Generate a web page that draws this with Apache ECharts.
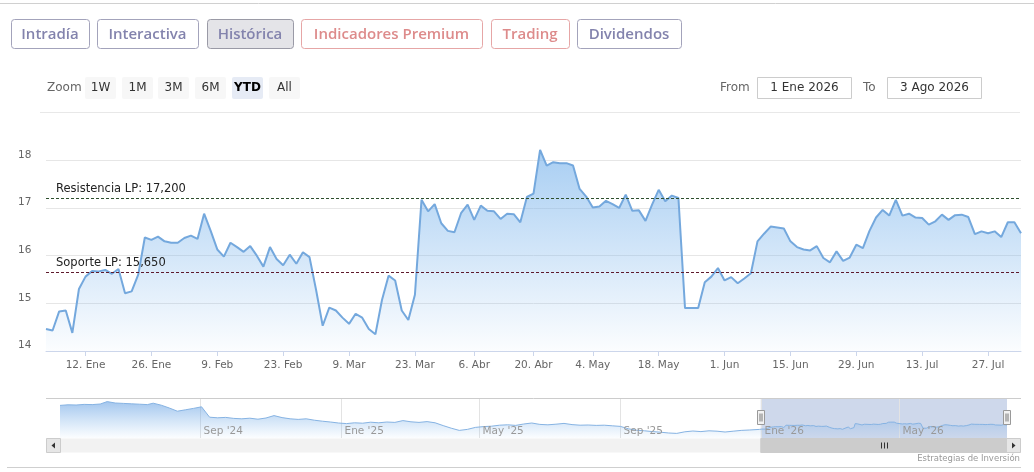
<!DOCTYPE html>
<html><head><meta charset="utf-8">
<script src="https://cdn.jsdelivr.net/npm/echarts@6/dist/echarts.min.js"></script>
<style>html,body{margin:0;padding:0;background:#fff;overflow:hidden}#c{width:1034px;height:472px}</style>
</head><body><div id="c"></div><script>
// ---- data ----
const dates = [
'2026-01-02','2026-01-05','2026-01-06','2026-01-07','2026-01-08','2026-01-09','2026-01-12','2026-01-13','2026-01-14','2026-01-15','2026-01-16','2026-01-19','2026-01-20','2026-01-21','2026-01-22','2026-01-23','2026-01-26','2026-01-27','2026-01-28','2026-01-29','2026-01-30',
'2026-02-02','2026-02-03','2026-02-04','2026-02-05','2026-02-06','2026-02-09','2026-02-10','2026-02-11','2026-02-12','2026-02-13','2026-02-16','2026-02-17','2026-02-18','2026-02-19','2026-02-20','2026-02-23','2026-02-24','2026-02-25','2026-02-26','2026-02-27',
'2026-03-02','2026-03-03','2026-03-04','2026-03-05','2026-03-06','2026-03-09','2026-03-10','2026-03-11','2026-03-12','2026-03-13','2026-03-16','2026-03-17','2026-03-18','2026-03-19','2026-03-20','2026-03-23','2026-03-24','2026-03-25','2026-03-26','2026-03-27','2026-03-30','2026-03-31',
'2026-04-01','2026-04-02','2026-04-07','2026-04-08','2026-04-09','2026-04-10','2026-04-13','2026-04-14','2026-04-15','2026-04-16','2026-04-17','2026-04-20','2026-04-21','2026-04-22','2026-04-23','2026-04-24','2026-04-27','2026-04-28','2026-04-29','2026-04-30',
'2026-05-04','2026-05-05','2026-05-06','2026-05-07','2026-05-08','2026-05-11','2026-05-12','2026-05-13','2026-05-14','2026-05-15','2026-05-18','2026-05-19','2026-05-20','2026-05-21','2026-05-22','2026-05-25','2026-05-26','2026-05-27','2026-05-28','2026-05-29',
'2026-06-01','2026-06-02','2026-06-03','2026-06-04','2026-06-05','2026-06-08','2026-06-09','2026-06-10','2026-06-11','2026-06-12','2026-06-15','2026-06-16','2026-06-17','2026-06-18','2026-06-19','2026-06-22','2026-06-23','2026-06-24','2026-06-25','2026-06-26','2026-06-29','2026-06-30',
'2026-07-01','2026-07-02','2026-07-03','2026-07-06','2026-07-07','2026-07-08','2026-07-09','2026-07-10','2026-07-13','2026-07-14','2026-07-15','2026-07-16','2026-07-17','2026-07-20','2026-07-21','2026-07-22','2026-07-23','2026-07-24','2026-07-27','2026-07-28','2026-07-29','2026-07-30','2026-07-31',
'2026-08-03'
];
const prices = [
14.46,14.43,14.83,14.85,14.38,15.30,15.56,15.68,15.67,15.70,15.62,15.72,15.21,15.25,15.60,16.38,16.33,16.40,16.30,16.27,16.27,
16.37,16.42,16.35,16.88,16.52,16.13,15.98,16.27,16.18,16.08,16.20,16.00,15.77,16.18,15.93,15.80,16.02,15.83,16.07,15.97,
15.28,14.53,14.91,14.85,14.70,14.57,14.78,14.70,14.46,14.35,15.07,15.58,15.48,14.85,14.65,15.18,17.17,16.93,17.08,16.68,16.52,16.49,
16.89,17.07,16.75,17.05,16.94,16.93,16.77,16.88,16.87,16.70,17.23,17.30,18.22,17.89,17.96,17.94,17.94,17.89,17.40,17.24,
17.01,17.03,17.15,17.08,17.00,17.28,16.94,16.95,16.73,17.07,17.38,17.14,17.26,17.21,14.90,14.90,14.90,15.44,15.56,15.74,
15.48,15.55,15.42,15.52,15.63,16.30,16.46,16.61,16.59,16.57,16.30,16.18,16.13,16.11,16.20,15.95,15.86,16.09,15.89,15.96,16.23,16.16,
16.52,16.80,16.96,16.84,17.17,16.84,16.88,16.80,16.79,16.65,16.72,16.86,16.75,16.85,16.86,16.81,16.45,16.51,16.47,16.51,16.39,16.70,16.70,
16.47
];
const tickDates = ['2026-01-12','2026-01-26','2026-02-09','2026-02-23','2026-03-09','2026-03-23','2026-04-07','2026-04-20','2026-05-04','2026-05-18','2026-06-01','2026-06-15','2026-06-29','2026-07-13','2026-07-27'];
const tickLabels = ['12. Ene','26. Ene','9. Feb','23. Feb','9. Mar','23. Mar','6. Abr','20. Abr','4. May','18. May','1. Jun','15. Jun','29. Jun','13. Jul','27. Jul'];
const resistance = 17.2;
const resistanceLabel = 'Resistencia LP: 17,200';
const support = 15.65;
const supportLabel = 'Soporte LP: 15,650';
const histDates = [
'2024-05-02','2024-05-09','2024-05-16','2024-05-23','2024-05-30','2024-06-06','2024-06-12','2024-06-19','2024-06-26','2024-07-03','2024-07-10','2024-07-17','2024-07-22','2024-07-29',
'2024-08-05','2024-08-12','2024-08-19','2024-08-26','2024-09-02','2024-09-09','2024-09-16','2024-09-23','2024-09-30','2024-10-07','2024-10-14','2024-10-21','2024-10-28',
'2024-11-04','2024-11-11','2024-11-18','2024-11-25','2024-12-02','2024-12-09','2024-12-16','2024-12-23','2024-12-30',
'2025-01-06','2025-01-13','2025-01-20','2025-01-27','2025-02-03','2025-02-10','2025-02-17','2025-02-24','2025-03-03','2025-03-10','2025-03-17','2025-03-24','2025-03-31',
'2025-04-07','2025-04-14','2025-04-21','2025-04-28','2025-05-05','2025-05-12','2025-05-19','2025-05-26','2025-06-02','2025-06-09','2025-06-16','2025-06-23','2025-06-30',
'2025-07-07','2025-07-14','2025-07-21','2025-07-28','2025-08-04','2025-08-11','2025-08-18','2025-08-25','2025-09-01','2025-09-08','2025-09-15','2025-09-22','2025-09-29',
'2025-10-06','2025-10-13','2025-10-20','2025-10-27','2025-11-03','2025-11-10','2025-11-17','2025-11-24','2025-12-01','2025-12-08','2025-12-15','2025-12-22','2025-12-31'
];
const histPrices = [
26.3,26.6,26.5,26.8,26.7,27.0,28.2,27.5,27.3,27.1,26.9,26.7,27.4,26.4,
25.0,23.4,24.1,24.8,25.6,20.4,20.1,20.3,19.8,19.6,19.9,19.4,20.0,
21.2,20.2,19.6,19.3,19.6,18.9,18.4,18.0,17.5,
17.2,17.6,17.4,17.9,17.6,18.0,17.8,18.7,18.1,17.8,18.2,17.6,16.2,
14.9,13.8,14.3,15.3,15.7,15.9,16.4,16.6,16.3,17.0,17.5,16.8,16.6,
16.9,17.3,16.7,16.4,16.5,16.3,16.4,16.1,15.8,14.6,13.9,13.6,13.2,
12.9,12.5,12.3,13.1,13.5,13.2,13.6,13.4,13.0,13.4,13.8,14.0,14.3
];
const navTickDates = ['2024-09-01','2025-01-01','2025-05-01','2025-09-01','2026-01-01','2026-05-01'];
const navTickLabels = ["Sep '24","Ene '25","May '25","Sep '25","Ene '26","May '26"];
const rangeFrom = '2026-01-01';
const rangeTo = '2026-08-03';

// ---- chart ----
const FONT = '"DejaVu Sans", Verdana, sans-serif';
const chart = echarts.init(document.getElementById('c'), null, {renderer:'canvas', width:1034, height:472});
const tickSet = new Set(tickDates);
const navDates = histDates.concat(dates);
const navPrices = histPrices.concat(prices);

chart.setOption({
  animation:false,
  backgroundColor:'#ffffff',
  grid:[{left:46,right:13,top:146,height:205},{left:60,right:27,top:398,height:40}],
  xAxis:[
    {type:'category', gridIndex:0, data:dates, boundaryGap:false,
     axisLine:{lineStyle:{color:'#ccd6eb'}},
     axisTick:{show:true, interval:(i,v)=>tickSet.has(v), length:5, lineStyle:{color:'#ccd6eb'}},
     axisLabel:{interval:(i,v)=>tickSet.has(v), formatter:v=>tickLabels[tickDates.indexOf(v)], color:'#666666', fontFamily:FONT, fontSize:10.5, margin:9},
     splitLine:{show:false}},
    {type:'time', gridIndex:1, min:histDates[0], max:rangeTo, show:false}
  ],
  yAxis:[
    {type:'value', gridIndex:0, min:14, max:18.3, interval:1,
     axisLine:{show:false}, axisTick:{show:false},
     splitLine:{show:true, showMaxLine:false, lineStyle:{color:'#e6e6e6'}},
     axisLabel:{formatter:v=>Number.isInteger(v)?String(v):'', showMaxLabel:false, align:'left', margin:28, verticalAlign:'bottom', color:'#666666', fontFamily:FONT, fontSize:10.5}},
    {type:'value', gridIndex:1, min:10, max:30, show:false}
  ],
  series:[
    {type:'line', name:'Cotización', xAxisIndex:0, yAxisIndex:0, data:prices, symbol:'none', z:3,
     lineStyle:{color:'#74a8dd', width:2}, itemStyle:{color:'#74a8dd'},
     areaStyle:{color:new echarts.graphic.LinearGradient(0,0,0,1,[{offset:0,color:'rgba(124,181,236,0.95)'},{offset:1,color:'rgba(124,181,236,0.04)'}])},
     markLine:{silent:true, symbol:'none', animation:false,
       label:{position:'insideStartTop', distance:[10,3], color:'#222222', fontFamily:FONT, fontSize:11.5},
       data:[
         {yAxis:resistance, label:{formatter:resistanceLabel}, lineStyle:{color:'#2d4f2d', type:[3,2], width:1}},
         {yAxis:support, label:{formatter:supportLabel}, lineStyle:{color:'#5e1a2c', type:[3,2], width:1}}
       ]}
    },
    {type:'line', name:'Navigator', xAxisIndex:1, yAxisIndex:1, data:navDates.map((d,i)=>[d,navPrices[i]]), symbol:'none', z:2,
     lineStyle:{color:'#86b3e3', width:1}, itemStyle:{color:'#86b3e3'},
     areaStyle:{color:new echarts.graphic.LinearGradient(0,0,0,1,[{offset:0,color:'rgba(110,165,228,0.9)'},{offset:1,color:'rgba(124,181,236,0.04)'}])},
     markArea:{silent:true, itemStyle:{color:'rgba(102,133,194,0.32)'}, data:[[{xAxis:rangeFrom},{xAxis:rangeTo}]]}
    }
  ]
});

// ---- page chrome & navigator decorations (positions via library scales) ----
const px = d => chart.convertToPixel({xAxisIndex:1}, +echarts.number.parseDate(d));
const g = [];
const txt = (text, x, y, font, fill, align) => ({type:'text', x:x, y:y, z:20, style:{text:text, font:font, fill:fill, textAlign:align||'left', align:align||'left', textVerticalAlign:'middle', verticalAlign:'middle'}});
const line = (x1,y1,x2,y2,stroke,z) => ({type:'line', z:z||1, shape:{x1:x1,y1:y1,x2:x2,y2:y2}, style:{stroke:stroke, lineWidth:1}});
const rect = (x,y,w,h,fill,stroke,r,z) => ({type:'rect', z:z||1, shape:{x:x,y:y,width:w,height:h,r:r||0}, style:{fill:fill, stroke:stroke||null, lineWidth:1}});

g.push(line(0,3.5,1034,3.5,'#d0d0d0'));
const tabs = [['Intradía',11,78,'p'],['Interactiva',97,101,'p'],['Histórica',207,86,'s'],['Indicadores Premium',301,181,'r'],['Trading',491,78,'r'],['Dividendos',577,104,'p']];
tabs.forEach(t => {
  const red = t[3]==='r', sel = t[3]==='s';
  g.push(rect(t[1]+0.5,19.5,t[2],29, sel?'#e4e4e8':'#ffffff', red?'#e6a6a6':(sel?'#9a9aa6':'#a3a3bb'),3,10));
  g.push(txt(t[0], t[1]+t[2]/2, 34.5, '600 15px "Open Sans", sans-serif', red?'#dd8b8b':'#8383ad','center'));
});
const ZF = '12px "DejaVu Sans", sans-serif';
g.push(txt('Zoom',47,88,ZF,'#666666'));
const zb = [['1W',85],['1M',122],['3M',158],['6M',195],['YTD',232],['All',269]];
zb.forEach(b => {
  const sel = b[0]==='YTD';
  g.push(rect(b[1],77,31,22, sel?'#e6ebf5':'#f7f7f7', null, 2, 10));
  g.push(txt(b[0], b[1]+15.5, 88, sel?'bold 12px "DejaVu Sans", sans-serif':ZF, sel?'#000000':'#333333','center'));
});
g.push(txt('From',720,88,ZF,'#666666'));
g.push(rect(757.5,77.5,94,21,'#ffffff','#cccccc',0,10));
g.push(txt('1 Ene 2026',804.5,88,ZF,'#333333','center'));
g.push(txt('To',863,88,ZF,'#666666'));
g.push(rect(887.5,77.5,94,21,'#ffffff','#cccccc',0,10));
g.push(txt('3 Ago 2026',934.5,88,ZF,'#333333','center'));
g.push(line(40,112.5,1020,112.5,'#e8e8e8'));

// navigator grid lines and labels
navTickDates.forEach((d,i) => {
  const x = Math.round(px(d))+0.5;
  g.push(line(x,398,x,438,'#e3e3e3',1));
  g.push(txt(navTickLabels[i], x+3, 431, '10.5px "DejaVu Sans", sans-serif', '#999999'));
});
g.push(line(46,398.5,1021,398.5,'#cccccc',5));
// scrollbar
const xL = px(rangeFrom), xR = px(rangeTo);
g.push(rect(46,438.5,975,14,'#f2f2f2',null,0,5));
g.push(rect(xL,438.5,xR-xL,14,'#cccccc','#cccccc',0,6));
const mid = (xL+xR)/2;
[-3,0,3].forEach(o => g.push(line(Math.round(mid+o)+0.5,442.5,Math.round(mid+o)+0.5,448.5,'#333333',7)));
g.push(rect(46.5,438.5,14,14,'#e6e6e6','#cccccc',0,7));
g.push({type:'polygon', z:8, shape:{points:[[51.5,445.5],[55,442.5],[55,448.5]]}, style:{fill:'#333333'}});
g.push(rect(1006.5,438.5,14,14,'#e6e6e6','#cccccc',0,7));
g.push({type:'polygon', z:8, shape:{points:[[1015.5,445.5],[1012,442.5],[1012,448.5]]}, style:{fill:'#333333'}});
// handles
[xL,xR].forEach(x => {
  const hx = Math.round(x)-3.5;
  g.push(rect(hx,410.5,7,14,'#f2f2f2','#999999',0,12));
  g.push(line(hx+2.5,413.5,hx+2.5,421.5,'#777777',13));
  g.push(line(hx+4.5,413.5,hx+4.5,421.5,'#777777',13));
});
g.push(line(7,467.5,1021,467.5,'#cfcfcf'));
g.push(txt('Estrategias de Inversión',1020,459,'8.5px "DejaVu Sans", sans-serif','#999999','right'));

chart.setOption({graphic:{elements:g}});
</script></body></html>
